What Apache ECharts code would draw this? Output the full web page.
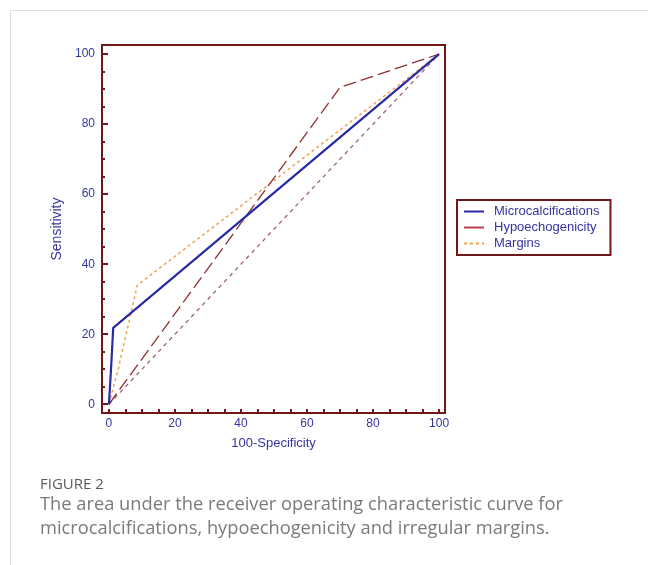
<!DOCTYPE html>
<html><head><meta charset="utf-8">
<script src="https://cdn.jsdelivr.net/npm/echarts@6/dist/echarts.min.js"></script>
<style>html,body{margin:0;padding:0;background:#fff}#c{width:648px;height:565px}</style>
</head><body><div id="c"></div>
<script>
// data: [100-Specificity, Sensitivity]
var microcalcifications = [[0,0],[0.6,9.5],[1.3,21.8],[100,100]];
var hypoechogenicity = [[0,0],[70,90.5],[100,100]];
var margins = [[0,0],[2.8,10],[8.6,34],[100,100]];
var reference = [[0,0],[100,100]];
var tickValues = [0,5,10,15,20,25,30,35,40,45,50,55,60,65,70,75,80,85,90,95,100];
var labelValues = [0,20,40,60,80,100];

var font = "'Liberation Sans', Arial, sans-serif";
var lblColor = '#3535a0';
var frameColor = '#701818';

var chart = echarts.init(document.getElementById('c'));
chart.setOption({
  animation:false,
  grid:{left:102,top:45,width:343,height:368,show:true,borderColor:frameColor,borderWidth:2,containLabel:false},
  xAxis:{type:'value',min:-2.1,max:101.8,
    name:'100-Specificity',nameLocation:'middle',nameGap:24,
    nameTextStyle:{color:lblColor,fontFamily:font,fontSize:13},
    axisLine:{show:false,onZero:false},splitLine:{show:false},
    axisTick:{show:true,inside:true,length:4,customValues:tickValues,lineStyle:{color:frameColor,width:2}},
    axisLabel:{customValues:labelValues,color:lblColor,fontFamily:font,fontSize:12,margin:5}},
  yAxis:[{type:'value',min:-2.5,max:102.6,
    name:'Sensitivity',nameLocation:'middle',nameGap:36,
    nameTextStyle:{color:lblColor,fontFamily:font,fontSize:14},
    axisLine:{show:false,onZero:false},splitLine:{show:false},
    axisTick:{show:true,inside:true,length:6,customValues:labelValues,lineStyle:{color:frameColor,width:2}},
    axisLabel:{customValues:labelValues,color:lblColor,fontFamily:font,fontSize:12,margin:7}},
    {type:'value',min:-2.5,max:102.6,position:'left',
    axisLine:{show:false,onZero:false},splitLine:{show:false},
    axisTick:{show:true,inside:true,length:3,customValues:tickValues,lineStyle:{color:frameColor,width:2}},
    axisLabel:{show:false}}],
  legend:{orient:'vertical',left:457,top:200,itemWidth:20,itemHeight:13,itemGap:3,
    padding:[5,11,5,6],borderColor:frameColor,borderWidth:2,
    itemStyle:{color:'transparent',borderWidth:0,opacity:0},
    textStyle:{color:lblColor,fontFamily:font,fontSize:13,padding:[0,0,0,5]},
    data:[
      {name:'Microcalcifications'},
      {name:'Hypoechogenicity',lineStyle:{type:'solid',width:2,color:'#b8404c',opacity:1}},
      {name:'Margins'}
    ]},
  series:[
    {name:'Reference',type:'line',data:reference,symbol:'none',silent:true,
      lineStyle:{color:'#a06475',width:1.3,type:[4,4]},z:1},
    {name:'Margins',type:'line',data:margins,symbol:'none',
      lineStyle:{color:'#f0a050',width:1.5,type:[3,3]},z:2},
    {name:'Hypoechogenicity',type:'line',data:hypoechogenicity,symbol:'none',
      itemStyle:{color:'#b8404c'},
      lineStyle:{color:'#8e3030',width:1.3,type:[13,5]},z:3},
    {name:'Microcalcifications',type:'line',data:microcalcifications,symbol:'none',
      lineStyle:{color:'#2a2aa8',width:2.2},z:4}
  ],
  graphic:[
    {type:'line',shape:{x1:10,y1:10.5,x2:648,y2:10.5},style:{stroke:'#dddddd',lineWidth:1}},
    {type:'line',shape:{x1:10.5,y1:10,x2:10.5,y2:565},style:{stroke:'#dddddd',lineWidth:1}},
    {type:'text',left:40,top:477,style:{text:'FIGURE 2',fill:'#5a5a5a',font:"15px 'Open Sans', sans-serif"}},
    {type:'text',left:40,top:496,style:{text:'The area under the receiver operating characteristic curve for',fill:'#7a7a7a',font:"18.3px 'Open Sans', sans-serif"}},
    {type:'text',left:40,top:520,style:{text:'microcalcifications, hypoechogenicity and irregular margins.',fill:'#7a7a7a',font:"18.3px 'Open Sans', sans-serif"}}
  ]
});
</script></body></html>
